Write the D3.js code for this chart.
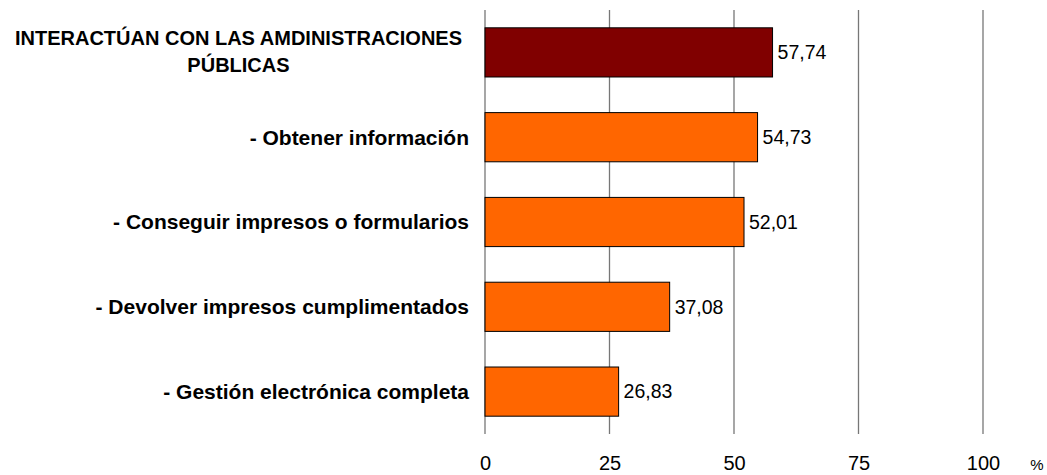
<html>
<head>
<meta charset="utf-8">
<title>Interactúan con las administraciones públicas</title>
<style>
  body { margin: 0; background: #fff; }
  text { font-family: "Liberation Sans", Arial, sans-serif; }
</style>
</head>
<body>
<script src="https://cdn.jsdelivr.net/npm/d3@7"></script>
<script>
    var width = 1047, height = 475;
    var categories = [
        "INTERACTÚAN CON LAS AMDINISTRACIONES|PÚBLICAS",
        "- Obtener información",
        "- Conseguir impresos o formularios",
        "- Devolver impresos cumplimentados",
        "- Gestión electrónica completa"
    ];
    var values = [57.74, 54.73, 52.01, 37.08, 26.83];
    var barColors = ["#800000", "#ff6600", "#ff6600", "#ff6600", "#ff6600"];
    var ticks = [0, 25, 50, 75, 100];

    var padding = {left: 485, right: 64, top: 10, bottom: 41};

    var svg = d3.select("body").append("svg")
        .attr("width", width)
        .attr("height", height);

    var xScale = d3.scaleLinear()
        .domain([0, 100])
        .range([padding.left, width - padding.right]);
    var yScale = d3.scaleBand()
        .domain(d3.range(categories.length))
        .range([padding.top, height - padding.bottom])
        .paddingInner(0.42)
        .paddingOuter(0.21);

    // gridlines
    svg.append("g").selectAll("line")
        .data(ticks)
        .enter().append("line")
        .attr("x1", function(d){ return xScale(d); })
        .attr("x2", function(d){ return xScale(d); })
        .attr("y1", padding.top)
        .attr("y2", height - padding.bottom)
        .attr("stroke", "#777")
        .attr("stroke-width", 1.3);

    // bars
    svg.append("g").selectAll("rect")
        .data(values)
        .enter().append("rect")
        .attr("x", xScale(0))
        .attr("y", function(d, i){ return yScale(i); })
        .attr("width", function(d){ return xScale(d) - xScale(0); })
        .attr("height", yScale.bandwidth())
        .attr("fill", function(d, i){ return barColors[i]; })
        .attr("stroke", "#000")
        .attr("stroke-width", 1);

    // value labels
    svg.append("g").selectAll("text")
        .data(values)
        .enter().append("text")
        .attr("x", function(d){ return xScale(d) + 5; })
        .attr("y", function(d, i){ return yScale(i) + yScale.bandwidth() / 2; })
        .attr("dy", "0.35em")
        .attr("font-size", 19.5)
        .attr("fill", "#000")
        .text(function(d){ return d.toFixed(2).replace(".", ","); });

    // category labels
    var labelX = padding.left - 16;
    categories.forEach(function(c, i){
        var lines = c.split("|");
        var cy = yScale(i) + yScale.bandwidth() / 2;
        var g = svg.append("g");
        if (lines.length == 1) {
            g.append("text")
                .attr("x", labelX)
                .attr("y", cy)
                .attr("dy", "0.35em")
                .attr("text-anchor", "end")
                .attr("font-size", 21)
                .attr("font-weight", "bold")
                .text(lines[0]);
        } else {
            var first = g.append("text")
                .attr("x", labelX - 7)
                .attr("y", cy - 14)
                .attr("dy", "0.35em")
                .attr("text-anchor", "end")
                .attr("font-size", 20)
                .attr("font-weight", "bold")
                .text(lines[0]);
            var w = first.node().getComputedTextLength();
            g.append("text")
                .attr("x", labelX - 7 - w / 2)
                .attr("y", cy + 13)
                .attr("dy", "0.35em")
                .attr("text-anchor", "middle")
                .attr("font-size", 20)
                .attr("font-weight", "bold")
                .text(lines[1]);
        }
    });

    // x axis labels
    var xAxis = d3.axisBottom(xScale).tickValues(ticks).tickSize(0).tickPadding(0);
    var ax = svg.append("g")
        .attr("transform", "translate(0," + 470 + ")")
        .call(xAxis);
    ax.select(".domain").remove();
    ax.selectAll("text")
        .attr("font-size", 20)
        .attr("font-family", "Liberation Sans, Arial, sans-serif")
        .attr("fill", "#000")
        .attr("dy", "0")
        .attr("y", 0);

    svg.append("text")
        .attr("x", 1037)
        .attr("y", 470)
        .attr("text-anchor", "middle")
        .attr("font-size", 15)
        .text("%");
</script>
</body>
</html>
